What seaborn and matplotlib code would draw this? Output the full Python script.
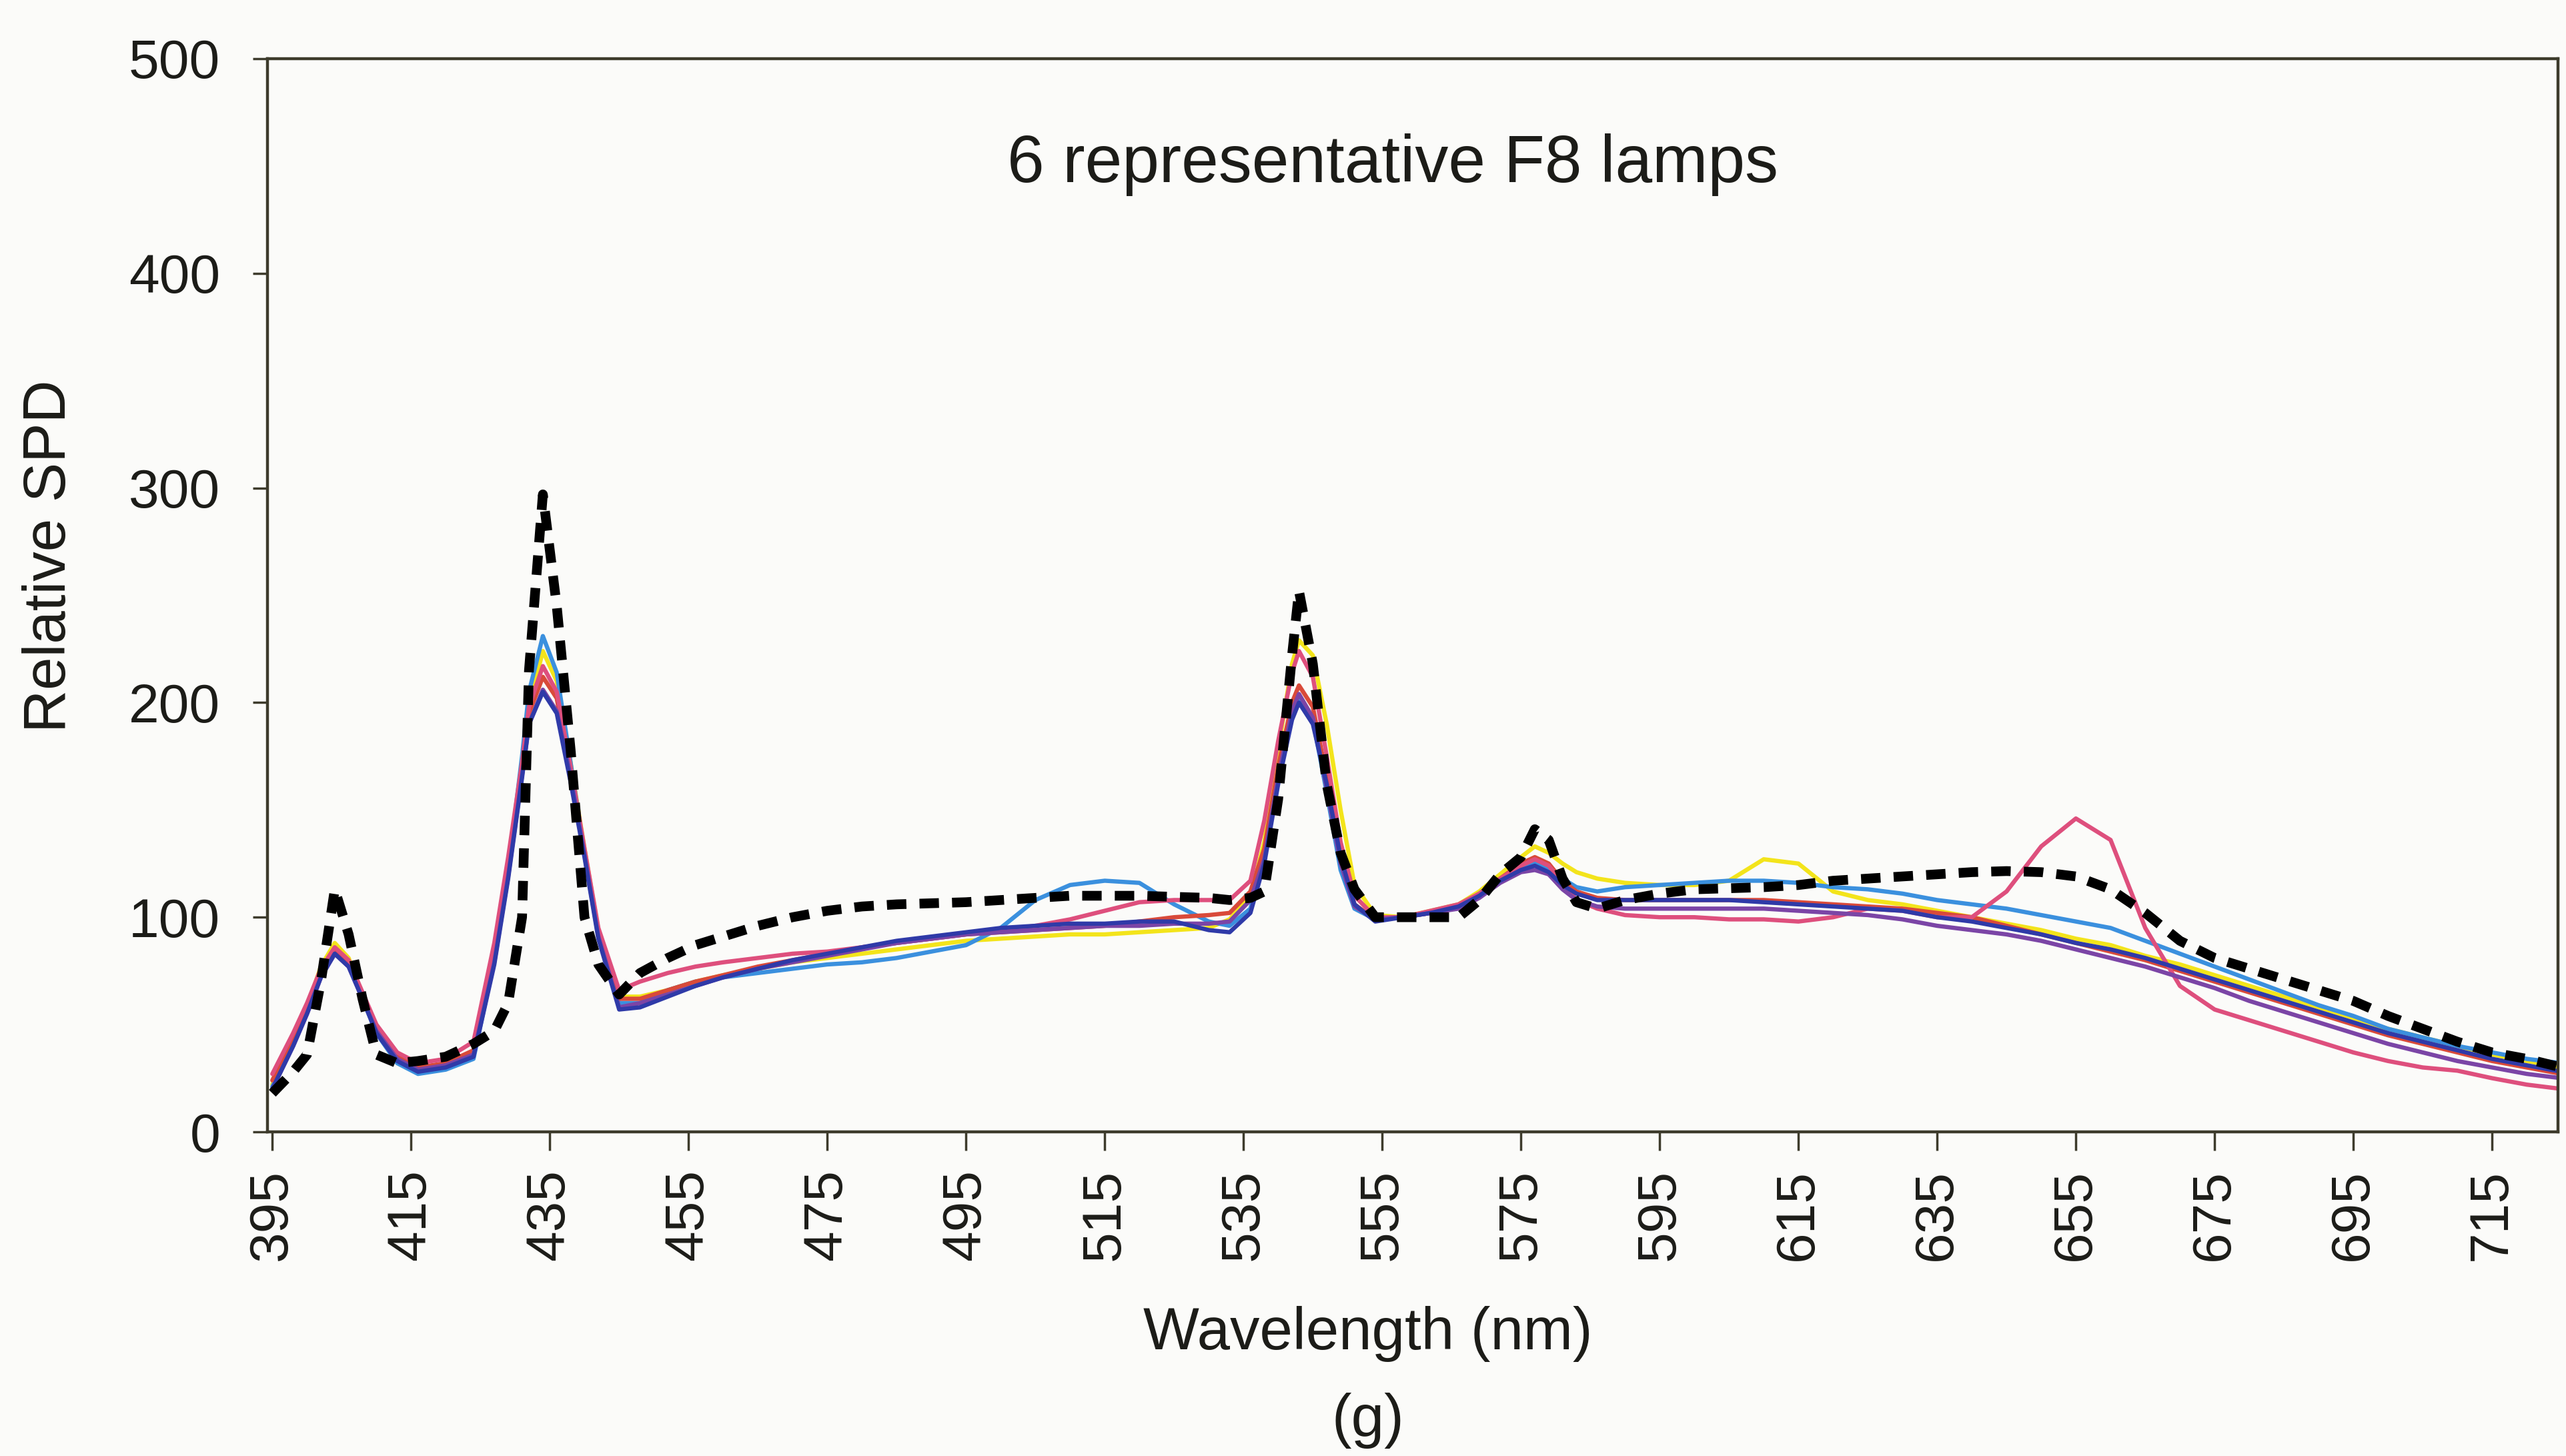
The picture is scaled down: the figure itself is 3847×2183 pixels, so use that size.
import numpy as np
import pandas as pd
import matplotlib
matplotlib.use("Agg")
import matplotlib.pyplot as plt
import seaborn as sns

# Wavelength grid (nm) shared by every spectrum
wavelength = [
    395, 398, 400, 402, 404, 406, 408, 410, 413, 416,
    420, 424, 427, 429, 431, 432, 434, 436, 438, 440,
    442, 445, 448, 452, 456, 460, 465, 470, 475, 480,
    485, 490, 495, 500, 505, 510, 515, 520, 525, 530,
    533, 536, 538, 540, 542, 543, 545, 547, 549, 551,
    554, 558, 562, 566, 569, 572, 575, 577, 579, 581,
    583, 586, 590, 595, 600, 605, 610, 615, 620, 625,
    630, 635, 640, 645, 650, 655, 660, 665, 670, 675,
    680, 685, 690, 695, 700, 705, 710, 715, 720, 725,
]

# CIE F8 reference spectrum
f8_standard = [
    18, 28, 36, 70, 113, 92, 62, 36, 32, 33,
    35, 41, 47, 60, 100, 215, 297, 245, 178, 100,
    78, 64, 74, 81, 87, 91, 96, 100, 103, 105,
    106, 106.5, 107, 108, 109, 110, 110, 110, 109.5, 109,
    108, 109, 112, 155, 222, 252, 218, 162, 130, 113,
    100, 100, 100, 100, 108, 120, 128, 141, 136, 118,
    107, 104, 108, 111, 113, 113.5, 114, 115, 117, 118,
    119, 120, 121, 121.5, 121, 119, 113, 102, 89, 81,
    76, 71, 66, 61, 54, 48, 42, 37, 34, 30,
]

# Measured lamps
lamp_navy = [
    20, 40, 55, 72, 83, 77, 62, 46, 33, 28,
    30, 35, 78, 118, 165, 190, 205, 195, 163, 128,
    90, 57, 58, 63, 68, 72, 76, 80, 83, 86,
    89, 91, 93, 95, 96, 97, 97, 98, 98, 94,
    93, 102, 125, 162, 192, 200, 190, 162, 128, 106,
    98, 100, 102, 105, 110, 117, 122, 124, 121, 115,
    111, 108, 108, 108, 108, 108, 107, 106, 105, 104,
    103, 100, 98, 95, 92, 88, 85, 81, 76, 71,
    66, 61, 56, 51, 46, 42, 38, 34, 31, 28,
]
lamp_pink = [
    27, 46, 60, 76, 86, 80, 65, 50, 37, 32,
    34, 42, 88, 128, 172, 198, 217, 205, 170, 132,
    95, 66, 70, 74, 77, 79, 81, 83, 84, 86,
    88, 90, 92, 94, 96, 99, 103, 107, 108, 108,
    108, 117, 145, 182, 214, 224, 212, 175, 135, 110,
    100, 100, 103, 106, 111, 118, 124, 127, 124, 116,
    108, 104, 101, 100, 100, 99, 99, 98, 100, 104,
    103, 100, 100, 112, 133, 146, 136, 95, 68, 57,
    52, 47, 42, 37, 33, 30, 28.5, 25, 22, 20,
]
lamp_yellow = [
    22, 43, 58, 77, 88, 81, 64, 48, 34, 29,
    31, 37, 82, 122, 170, 198, 224, 210, 172, 132,
    94, 63, 63, 66, 70, 73, 76, 79, 81, 83,
    85, 87, 89, 90, 91, 92, 92, 93, 94, 95,
    99, 110, 135, 178, 218, 229, 222, 190, 150, 115,
    101, 100, 103, 106, 112, 120, 128, 133, 130, 125,
    121, 118, 116, 115, 115, 117, 127, 125, 112, 108,
    106, 103, 100, 97, 94, 90, 87, 82, 78, 73,
    68, 63, 58, 53, 48, 44, 40, 36, 33, 30,
]
lamp_lightblue = [
    21, 41, 56, 73, 84, 78, 62, 46, 32, 27,
    29, 34, 80, 122, 175, 205, 231, 214, 172, 130,
    92, 60, 60, 66, 70, 72, 74, 76, 78, 79,
    81, 84, 87, 95, 108, 115, 117, 116, 106, 98,
    96, 104, 128, 165, 195, 202, 192, 158, 122, 104,
    99, 100, 102, 105, 111, 118, 123, 126, 123, 118,
    114, 112, 114, 115, 116, 117, 117, 116, 114, 113,
    111, 108, 106, 104, 101, 98, 95, 89, 83, 77,
    71, 65, 59, 54, 48, 44, 40, 37, 34, 32,
]
lamp_purple = [
    20, 40, 55, 72, 83, 77, 62, 47, 34, 29,
    31, 36, 79, 119, 166, 190, 206, 196, 166, 129,
    91, 58, 60, 64, 68, 72, 76, 79, 82, 85,
    88, 90, 92, 93, 94, 95, 96, 96, 97, 97,
    98, 108, 127, 165, 196, 204, 193, 160, 125, 105,
    99, 100, 102, 104, 109, 116, 121, 122, 120, 113,
    108, 105, 104, 104, 104, 104, 104, 103, 102, 101,
    99, 96, 94, 92, 89, 85, 81, 77, 72, 67,
    61, 56, 51, 46, 41, 37, 33, 30, 27, 25,
]
lamp_red = [
    24, 44, 58, 74, 85, 79, 64, 49, 35, 30,
    32, 38, 84, 124, 170, 195, 212, 202, 168, 130,
    93, 62, 62, 66, 70, 73, 77, 80, 83, 86,
    88, 90, 92, 93, 94, 95, 96, 98, 100, 101,
    102, 112, 132, 170, 200, 208, 198, 165, 128, 106,
    99, 100, 102, 105, 110, 118, 125, 128, 125, 117,
    112, 109, 108, 108, 108, 108, 108, 107, 106, 105,
    104, 102, 100, 96, 92, 88, 84, 80, 75, 70,
    65, 60, 55, 50, 45, 41, 37, 33, 30, 27,
]

lamp_names = ["L1", "L2", "L3", "L4", "L5", "L6"]
lamp_series = [lamp_yellow, lamp_lightblue, lamp_red, lamp_pink, lamp_purple, lamp_navy]
lamp_colors = ["#f3e41b", "#3b90de", "#d94a3a", "#de4f7d", "#7b45a6", "#2f3aa8"]

x_ticks = list(range(395, 716, 20))
y_ticks = [0, 100, 200, 300, 400, 500]

title_text = "6 representative F8 lamps"
x_label = "Wavelength (nm)"
y_label = "Relative SPD"
panel_tag = "(g)"

# Long-format table for seaborn
frames = []
for name, vals in zip(lamp_names, lamp_series):
    frames.append(pd.DataFrame({"wavelength": wavelength, "spd": vals, "lamp": name}))
lamps_df = pd.concat(frames, ignore_index=True)
f8_df = pd.DataFrame({"wavelength": wavelength, "spd": f8_standard})

sns.set_theme(style="white")
plt.rcParams["font.family"] = ["Liberation Sans", "DejaVu Sans"]
text_color = "#1c1c18"
spine_color = "#3d3b2c"
bg = "#fbfbf9"

W, H = 3847, 2183
fig = plt.figure(figsize=(W / 100, H / 100), dpi=100, facecolor=bg)
ax_left, ax_right, ax_top, ax_bottom = 401, 3835, 88, 1697
ax = fig.add_axes([ax_left / W, 1 - ax_bottom / H,
                   (ax_right - ax_left) / W, (ax_bottom - ax_top) / H])
ax.set_facecolor(bg)

sns.lineplot(data=lamps_df, x="wavelength", y="spd", hue="lamp",
             hue_order=lamp_names, palette=dict(zip(lamp_names, lamp_colors)),
             linewidth=4.6, legend=False, errorbar=None, ax=ax)
for ln in ax.lines:
    ln.set_solid_joinstyle("round")
    ln.set_solid_capstyle("round")
sns.lineplot(data=f8_df, x="wavelength", y="spd", color="black",
             linewidth=10.5, linestyle=(0, (2.0, 1.35)), errorbar=None, ax=ax)

ax.set_xlim(394.3, 724.5)
ax.set_ylim(0, 500)
ax.set_xticks(x_ticks)
ax.set_xticklabels([str(t) for t in x_ticks], rotation=90)
ax.set_yticks(y_ticks)
ax.set_yticklabels([str(t) for t in y_ticks])

ax.tick_params(axis="x", direction="out", length=20, width=2.5, color=spine_color,
               pad=20, labelsize=59, labelcolor=text_color, bottom=True)
ax.tick_params(axis="y", direction="out", length=16, width=2.5, color=spine_color,
               pad=35, labelsize=59, labelcolor=text_color, left=True)

for side in ["left", "right", "top", "bottom"]:
    ax.spines[side].set_visible(True)
    ax.spines[side].set_color(spine_color)
    ax.spines[side].set_linewidth(3.2)

ax.set_xlabel(x_label, fontsize=64, color=text_color)
ax.xaxis.set_label_coords((2051 - ax_left) / (ax_right - ax_left),
                          (ax_bottom - 2000) / (ax_bottom - ax_top))
ax.xaxis.label.set_verticalalignment("center")

ax.set_ylabel(y_label, fontsize=64, color=text_color)
ax.yaxis.set_label_coords((75 - ax_left) / (ax_right - ax_left),
                          (ax_bottom - 834) / (ax_bottom - ax_top))
ax.yaxis.label.set_verticalalignment("center")

ax.text((2088 - ax_left) / (ax_right - ax_left),
        (ax_bottom - 273) / (ax_bottom - ax_top),
        title_text, transform=ax.transAxes, ha="center", va="baseline",
        fontsize=72, color=text_color)

fig.text(2051 / W, 1 - 2130 / H, panel_tag, ha="center", va="center",
         fontsize=64, color=text_color)

fig.savefig("out.png", dpi=100, facecolor=bg)
